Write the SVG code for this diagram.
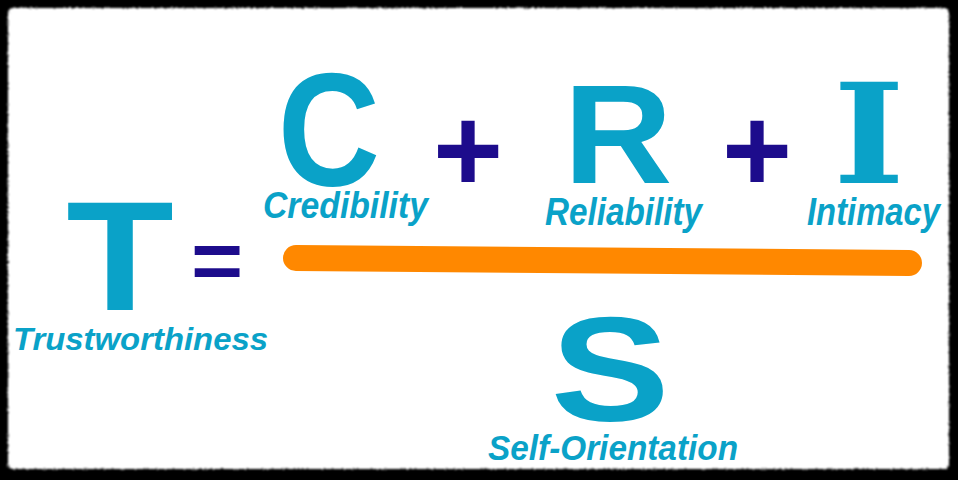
<svg xmlns="http://www.w3.org/2000/svg" width="958" height="480" viewBox="0 0 958 480">
<defs>
<filter id="rough" x="-2%" y="-2%" width="104%" height="104%">
<feTurbulence type="fractalNoise" baseFrequency="0.9" numOctaves="2" seed="3" result="n"/>
<feDisplacementMap in="SourceGraphic" in2="n" scale="4" xChannelSelector="R" yChannelSelector="G" result="d"/>
<feGaussianBlur in="d" stdDeviation="0.8"/>
</filter>
<style>
.big{font-family:"Liberation Sans",Arial,sans-serif;font-weight:bold;fill:#0aa2c8;text-anchor:middle}
.lbl{font-family:"Liberation Sans",Arial,sans-serif;font-weight:bold;font-style:italic;fill:#0aa2c8}
.op{font-family:"Liberation Sans",Arial,sans-serif;font-weight:bold;fill:#1d0c8c;text-anchor:middle}
</style>
</defs>
<rect width="958" height="480" fill="#000"/>
<rect x="8" y="8" width="941" height="461" rx="5" fill="#fff" filter="url(#rough)"/>

<g id="node-T">
<text class="big" font-size="156" transform="translate(120,310) scale(1.13,1)">T</text>
<text class="lbl" x="13" y="350" font-size="31" textLength="255" lengthAdjust="spacingAndGlyphs">Trustworthiness</text>
</g>

<g id="op-equals">
<text class="op" font-size="82" transform="translate(217,289) scale(1.09,1)">=</text>
</g>

<g id="node-C">
<text class="big" font-size="161" transform="translate(329,185) scale(0.88,1)">C</text>
<text class="lbl" x="263" y="218" font-size="36" textLength="165" lengthAdjust="spacingAndGlyphs">Credibility</text>
</g>

<g id="op-plus1">
<text class="op" font-size="120" x="468" y="192">+</text>
</g>

<g id="node-R">
<text class="big" font-size="141" transform="translate(618,183) scale(1.07,1)">R</text>
<text class="lbl" x="545" y="225" font-size="38" textLength="157" lengthAdjust="spacingAndGlyphs">Reliability</text>
</g>

<g id="op-plus2">
<text class="op" font-size="120" x="757" y="192">+</text>
</g>

<g id="node-I">
<text font-family="'DejaVu Serif',serif" font-weight="bold" fill="#0aa2c8" text-anchor="middle" font-size="139" transform="translate(869,183) scale(1.1,1)">I</text>
<text class="lbl" x="807" y="225" font-size="38" textLength="133" lengthAdjust="spacingAndGlyphs">Intimacy</text>
</g>

<g id="connectors">
<line x1="296" y1="258" x2="909" y2="263" stroke="#ff8800" stroke-width="26" stroke-linecap="round"/>
</g>

<g id="node-S">
<text class="big" font-size="149" transform="translate(610,421) scale(1.2,1)">S</text>
<text class="lbl" x="488" y="460" font-size="35" textLength="250" lengthAdjust="spacingAndGlyphs">Self-Orientation</text>
</g>
</svg>
